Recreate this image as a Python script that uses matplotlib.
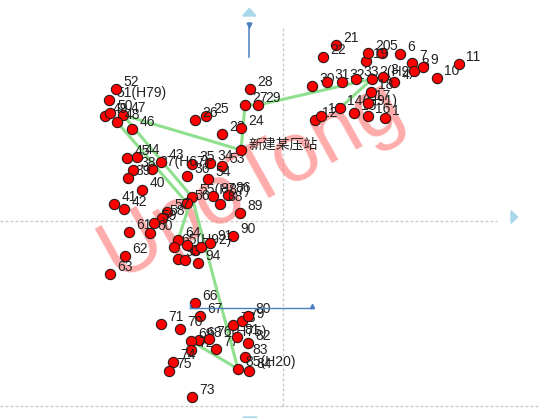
import matplotlib
matplotlib.use('Agg')
import matplotlib.pyplot as plt
from matplotlib.patches import Polygon
import re

# ---------------- data (x, y relative to the cross of the dashed axes) -------------
labels_tr = ["1", "2(H9)", "3", "4", "5", "6", "7", "8", "9", "10", "11", "12", "13",
             "14(H91)", "15", "16", "17", "18", "19", "20", "21", "22", "30", "31", "32", "33"]
x_tr = [102, 89, 100, 111, 99, 117, 129, 131, 140, 154, 176, 32, 38,
        57, 71, 85, 85, 88, 83, 85, 53, 40, 29, 44, 59, 73]
y_tr = [103, 142, 144, 139, 168, 167, 158, 150, 154, 143, 157, 101, 105,
        113, 108, 105, 118, 129, 160, 168, 176, 164, 135, 139, 139, 142]

labels_tm = ["23", "24", "25", "26", "27", "28", "29"]
x_tm = [-61, -42, -77, -88, -38, -33, -25]
y_tm = [87, 93, 105, 101, 116, 132, 116]

labels_lt = ["46", "47", "48", "49", "50", "51(H79)", "52"]
x_lt = [-151, -160, -166, -178, -173, -174, -167]
y_lt = [92, 106, 99, 105, 108, 121, 132]

labels_lm = ["37(H67)", "38", "39", "40", "41", "42", "43", "44", "45"]
x_lm = [-131, -150, -155, -141, -169, -159, -122, -146, -156]
y_lm = [52, 51, 43, 31, 17, 12, 59, 64, 63]

labels_mid = ["34", "35", "36", "53", "54", "55(H87)", "56", "57", "58", "59", "60",
              "61", "62", "63", "86", "87", "88", "89"]
x_mid = [-73, -91, -96, -61, -75, -91, -96, -116, -121, -129, -133,
         -154, -158, -173, -55, -70, -63, -43]
y_mid = [58, 57, 45, 55, 42, 24, 18, 9, 3, -2, -12,
         -11, -35, -53, 26, 25, 17, 8]

labels_low = ["64", "65(H92)", "90", "91", "92", "93", "94", "95", "96", "97"]
x_low = [-105, -109, -50, -73, -88, -105, -85, -98, -96, -82]
y_low = [-19, -26, -15, -22, -29, -38, -42, -39, -24, -26]

labels_bot = ["66", "67", "68", "69", "70", "71", "72", "73", "74", "75", "76(H75)",
              "77", "78", "79", "80", "81", "82", "83", "84", "85(H20)"]
x_bot = [-88, -83, -84, -92, -103, -122, -92, -91, -110, -114, -74,
         -67, -50, -41, -35, -46, -35, -38, -34, -45]
y_bot = [-82, -95, -119, -120, -108, -103, -129, -176, -141, -150, -118,
         -128, -104, -100, -95, -116, -122, -136, -150, -148]

hidden_labels = ["92", "95", "96", "97"]   # labels covered in the reference

station_label = "新建某压站"
station_x, station_y = -42, 71

# green connection paths (by point label)
paths = [
    ["14(H91)", "2(H9)", "29", "27", station_label, "47"],
    ["47", "55(H87)"],
    ["48", "56"],
    ["55(H87)", "64"],
    ["55(H87)", "85(H20)", "69"],
]

watermark = "UpoTong"

# ---------------- assemble ----------------
labels = labels_tr + labels_tm + labels_lt + labels_lm + labels_mid + labels_low + labels_bot
xs = x_tr + x_tm + x_lt + x_lm + x_mid + x_low + x_bot
ys = y_tr + y_tm + y_lt + y_lm + y_mid + y_low + y_bot
pos = {l: (x, y) for l, x, y in zip(labels, xs, ys)}
pos[station_label] = (station_x, station_y)


def num(l):
    m = re.match(r"\d+", l)
    return int(m.group()) if m else 999

order = sorted(range(len(labels)), key=lambda i: num(labels[i]))

fig = plt.figure(figsize=(5.4, 4.18), dpi=100)
ax = fig.add_axes([0, 0, 1, 1])
ax.set_xlim(-283, 257)
ax.set_ylim(-197, 221)
ax.axis('off')

grey = '#c8c8c8'
dash = (0, (2.0, 1.6))
ax.plot([-283, 214], [0, 0], color=grey, lw=1, ls=dash, zorder=1)
ax.plot([0, 0], [193, -185], color=grey, lw=1, ls=dash, zorder=1)
ax.plot([-283, 257], [-185, -185], color=grey, lw=1, ls=dash, zorder=1)

lb = '#aad7ec'
ax.add_patch(Polygon([(-40.3, 205), (-27, 205), (-33.7, 212.7)], closed=True, color=lb, zorder=1))
ax.add_patch(Polygon([(228, -2.3), (228, 10.3), (234.7, 4)], closed=True, color=lb, zorder=1))
ax.add_patch(Polygon([(-40, -196), (-26, -196), (-33, -204)], closed=True, color=lb, zorder=1))

blue = '#4a7fc0'
ax.plot([-33.7, -33.7], [197.7, 164.3], color=blue, lw=1.1, zorder=2)
ax.plot([-33.7], [196.5], marker='v', ms=3.5, color=blue, zorder=2)
ax.plot([-93, 28.7], [-87.3, -87.3], color=blue, lw=1.0, zorder=300)
ax.plot([-93, -93], [-87.3, -83], color=blue, lw=1.0, zorder=300)
ax.plot([28.7], [-85], marker='^', ms=3, color=blue, zorder=300)

# watermark
ax.text(-31, 42, watermark, rotation=29, fontsize=60, color=(1.0, 0.45, 0.45), alpha=0.6,
        ha='center', va='center', family='Liberation Sans', zorder=3)

# green lines
for p in paths:
    px = [pos[k][0] for k in p]
    py = [pos[k][1] for k in p]
    ax.plot(px, py, color='#8ee08e', lw=2.2, solid_capstyle='round', zorder=4)

# points and labels
z = 10
for i in order:
    l = labels[i]
    ax.plot(xs[i], ys[i], 'o', ms=7.4, mfc='#ff0000', mec='#2a1a1a', mew=0.8, zorder=z)
    if l not in hidden_labels:
        ax.annotate(l, (xs[i], ys[i]), xytext=(5.3, 1.9), textcoords='offset points',
                    fontsize=10, family='Liberation Sans', color='#222222',
                    ha='left', va='baseline', zorder=z + 1)
    z += 2

ax.plot(station_x, station_y, 'o', ms=7.4, mfc='#ff0000', mec='#2a1a1a', mew=0.8, zorder=z)
ax.annotate(station_label, (station_x, station_y), xytext=(5.3, 1.0), textcoords='offset points',
            fontsize=10, family=['Noto Sans CJK SC', 'DejaVu Sans'], color='#222222',
            ha='left', va='baseline', zorder=z + 1)

fig.savefig('out.png', dpi=100)
